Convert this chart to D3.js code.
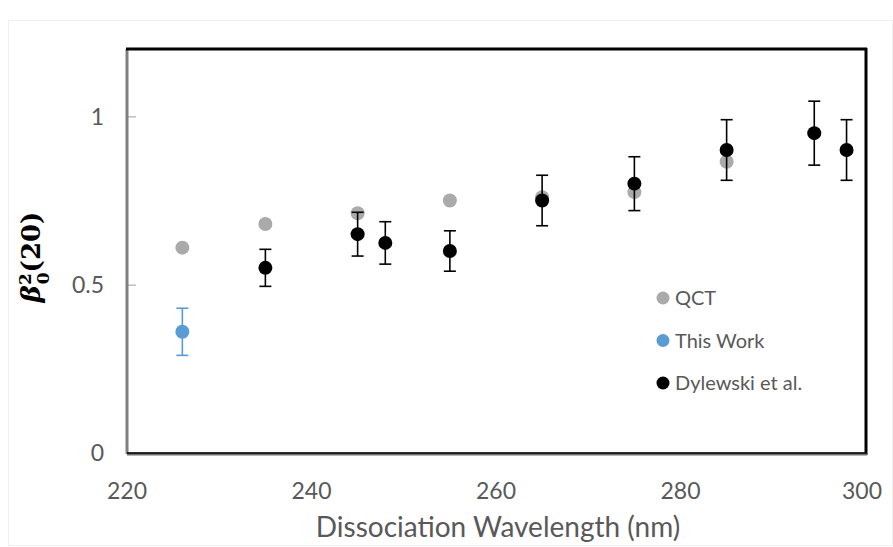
<!DOCTYPE html>
<html><head><meta charset="utf-8">
<script src="https://cdn.jsdelivr.net/npm/d3@7/dist/d3.min.js"></script>
<style>body{margin:0;background:#fff}svg{display:block}</style>
</head><body><svg id="c" width="893" height="547"></svg>
<script>
const qctX = [226, 235, 245, 255, 265, 275, 285];
const qctY = [0.61, 0.68, 0.712, 0.75, 0.76, 0.775, 0.865];
const thisX = [226];
const thisY = [0.36];
const thisErr = [0.07];
const dylX = [235, 245, 248, 255, 265, 275, 285, 294.5, 298];
const dylY = [0.55, 0.65, 0.624, 0.60, 0.75, 0.80, 0.90, 0.95, 0.90];
const dylErr = [0.055, 0.065, 0.063, 0.06, 0.075, 0.08, 0.09, 0.095, 0.09];
const xTicks = [220, 240, 260, 280, 300];
const yTicks = [0, 0.5, 1];
const legendNames = ["QCT", "This Work", "Dylewski et al."];
const colors = ["#aaaaaa", "#5b9bd5", "#000000"];

const FONT = "Lato, 'Open Sans', sans-serif";
const svg = d3.select("#c");
const L = 127, R = 865, T = 49, B = 453;
const x = d3.scaleLinear().domain([220, 300]).range([L, R]);
const y = d3.scaleLinear().domain([0, 1.2]).range([B, T]);

svg.append("rect").attr("x", 8.5).attr("y", 20.5).attr("width", 884).attr("height", 525)
  .attr("fill", "none").attr("stroke", "#f0f0f0");

const yAxis = d3.axisRight(y).tickValues(yTicks.filter(d => d > 0)).tickSize(9).tickFormat("");
svg.append("g").attr("transform", `translate(${L},0)`).call(yAxis)
  .call(g => { g.select(".domain").remove(); g.selectAll("line").attr("stroke", "#bfbfbf").attr("stroke-width", 1.5); });

svg.append("g").selectAll("text").data(yTicks).join("text")
  .attr("x", 104).attr("y", d => y(d)).attr("dy", "0.36em").attr("text-anchor", "end")
  .attr("font-family", FONT).attr("font-size", 23).attr("fill", "#595959")
  .text(d => d3.format("")(d));

svg.append("g").selectAll("text").data(xTicks).join("text")
  .attr("x", d => x(d) - (d === 300 ? 3 : 0)).attr("y", 499).attr("text-anchor", "middle")
  .attr("font-family", FONT).attr("font-size", 23).attr("fill", "#595959")
  .text(d => d);

svg.append("text").attr("x", 498).attr("y", 537).attr("text-anchor", "middle")
  .attr("font-family", FONT).attr("font-size", 28).attr("fill", "#595959")
  .text("Dissociation Wavelength (nm)");

const yt = svg.append("text").attr("transform", "translate(40,257) rotate(-90)")
  .attr("text-anchor", "middle").attr("font-family", "DejaVu Serif, serif")
  .attr("font-weight", "bold").attr("font-size", 26).attr("fill", "#000");
yt.append("tspan").attr("font-style", "italic").text("β");
yt.append("tspan").attr("font-size", 17).attr("dy", -9).text("2");
yt.append("tspan").attr("font-size", 17).attr("dx", -11).attr("dy", 18).text("0");
yt.append("tspan").attr("dy", -9).text("(20)");

svg.append("line").attr("x1", L).attr("x2", L).attr("y1", T).attr("y2", B + 1)
  .attr("stroke", "#808080").attr("stroke-width", 3);
svg.append("line").attr("x1", L - 1).attr("x2", R + 2).attr("y1", T).attr("y2", T)
  .attr("stroke", "#000").attr("stroke-width", 3);
svg.append("line").attr("x1", R + 1).attr("x2", R + 1).attr("y1", T - 1).attr("y2", B + 2)
  .attr("stroke", "#000").attr("stroke-width", 3);
svg.append("line").attr("x1", L).attr("x2", R + 2).attr("y1", B + 1).attr("y2", B + 1)
  .attr("stroke", "#707070").attr("stroke-width", 3);
svg.append("line").attr("x1", L).attr("x2", R + 2).attr("y1", B).attr("y2", B)
  .attr("stroke", "#000").attr("stroke-width", 1.5);

svg.append("g").selectAll("circle").data(qctX).join("circle")
  .attr("cx", d => x(d)).attr("cy", (d, i) => y(qctY[i])).attr("r", 7).attr("fill", colors[0]);

function errPoints(xs, ys, es, col) {
  const g = svg.append("g");
  xs.forEach((xv, i) => {
    const cx = x(xv), y1 = y(ys[i] + es[i]), y2 = y(ys[i] - es[i]);
    g.append("line").attr("x1", cx).attr("x2", cx).attr("y1", y1).attr("y2", y2).attr("stroke", col).attr("stroke-width", 1.6);
    [y1, y2].forEach(yy => g.append("line").attr("x1", cx - 6).attr("x2", cx + 6).attr("y1", yy).attr("y2", yy).attr("stroke", col).attr("stroke-width", 1.6));
    g.append("circle").attr("cx", cx).attr("cy", y(ys[i])).attr("r", 7).attr("fill", col);
  });
}
errPoints(thisX, thisY, thisErr, colors[1]);
errPoints(dylX, dylY, dylErr, colors[2]);

const lg = svg.append("g").selectAll("g").data(legendNames).join("g")
  .attr("transform", (d, i) => `translate(663,${298 + i * 42.5})`);
lg.append("circle").attr("r", 6.5).attr("fill", (d, i) => colors[i]);
lg.append("text").attr("x", 12).attr("dy", "0.36em").attr("font-family", FONT)
  .attr("font-size", 20).attr("fill", "#595959").text(d => d);
</script></body></html>
